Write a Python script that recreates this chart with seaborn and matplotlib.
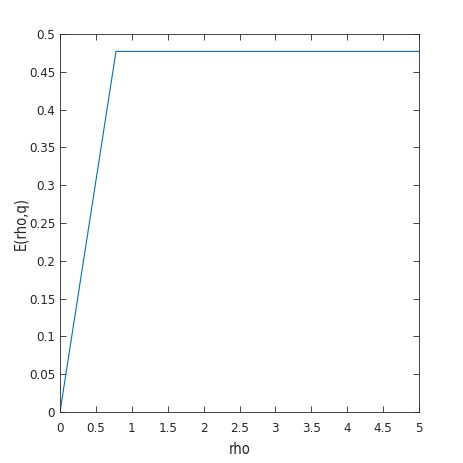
import numpy as np
import pandas as pd
import matplotlib
matplotlib.use('Agg')
import matplotlib.pyplot as plt
from matplotlib import font_manager
import seaborn as sns

# 곡선 데이터
rho = [0.0, 0.78, 5.0]
energy = [0.0, 0.477, 0.477]

x_ticks = [0, 0.5, 1, 1.5, 2, 2.5, 3, 3.5, 4, 4.5, 5]
x_labels = ['0', '0.5', '1', '1.5', '2', '2.5', '3', '3.5', '4', '4.5', '5']
y_ticks = [0, 0.05, 0.1, 0.15, 0.2, 0.25, 0.3, 0.35, 0.4, 0.45, 0.5]
y_labels = ['0', '0.05', '0.1', '0.15', '0.2', '0.25', '0.3', '0.35', '0.4', '0.45', '0.5']

sns.set_theme(style='white')

# 좁은 글꼴이 있으면 사용 (MATLAB Helvetica 느낌)
narrow = None
for f in font_manager.fontManager.ttflist:
    if 'Narrow' in f.name or f.stretch in ('condensed', 'semi-condensed'):
        if 'Liberation' in f.name or 'DejaVu Sans' == f.name:
            narrow = f
            break
if narrow is not None:
    plt.rcParams['font.family'] = [narrow.name, 'Liberation Sans', 'DejaVu Sans']
    if narrow.stretch != 'normal':
        plt.rcParams['font.stretch'] = narrow.stretch
    tick_size = 9.5
else:
    plt.rcParams['font.family'] = ['Liberation Sans', 'DejaVu Sans']
    tick_size = 9

df = pd.DataFrame({'rho': rho, 'E': energy})

fig = plt.figure(figsize=(4.63, 4.63), dpi=100)
ax = fig.add_axes([60 / 463, 51 / 463, 359 / 463, 378 / 463])
sns.lineplot(data=df, x='rho', y='E', ax=ax, color='#0072BD', linewidth=0.8)

ax.set_xlim(0, 5)
ax.set_ylim(0, 0.5)
ax.set_xticks(x_ticks)
ax.set_xticklabels(x_labels)
ax.set_yticks(y_ticks)
ax.set_yticklabels(y_labels)
ax.set_xlabel('rho', fontsize=tick_size + 1, color='#262626', labelpad=5)
ax.set_ylabel('E(rho,q)', fontsize=tick_size + 1, color='#262626')
# y 라벨 위치를 직접 지정 (축 좌표)
ax.yaxis.set_label_coords(-0.088, 0.5)

ax.tick_params(direction='in', length=4, width=0.6, colors='#262626',
               labelsize=tick_size, top=True, right=True, bottom=True, left=True,
               labeltop=False, labelright=False)
ax.tick_params(axis='x', pad=7.5)
for s in ax.spines.values():
    s.set_color('#262626')
    s.set_linewidth(0.6)
    s.set_visible(True)

fig.savefig('out.png', dpi=100)
